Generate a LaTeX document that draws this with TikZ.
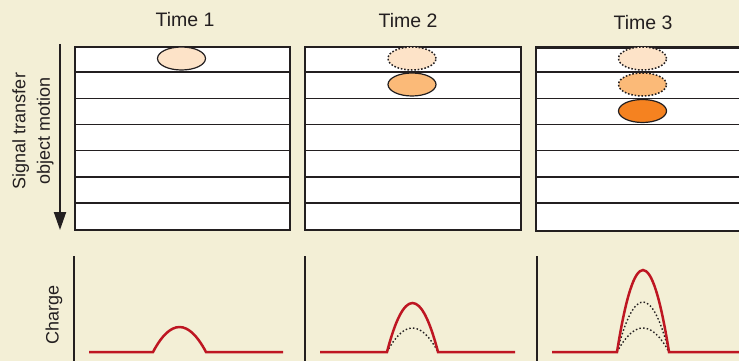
\documentclass[tikz,border=0pt]{standalone}
\usepackage{fontspec}
\setmainfont{Liberation Sans}
\usetikzlibrary{shapes.geometric,arrows.meta}
\definecolor{bg}{RGB}{243,239,214}
\definecolor{ink}{RGB}{35,31,32}
\definecolor{peach1}{RGB}{253,227,200}
\definecolor{peach2}{RGB}{251,186,120}
\definecolor{peach3}{RGB}{245,130,32}
\definecolor{sigred}{RGB}{190,22,34}
\tikzset{
  panel/.style={draw=ink, line width=2.4pt, fill=white, anchor=north west, inner sep=0pt},
  rowline/.style={draw=ink, line width=1.5pt},
  blob/.style={ellipse, draw=ink, line width=1.2pt, minimum width=48pt, minimum height=23pt, inner sep=0pt},
  ghost/.style={blob, line width=1.5pt, dash pattern=on 1.6pt off 1.8pt},
  title/.style={font=\fontsize{19.5}{21}\selectfont, text=ink},
  axis/.style={draw=ink, line width=1.3pt},
  sig/.style={draw=sigred, line width=2.5pt},
  prev/.style={draw=ink, line width=1.4pt, dash pattern=on 1.5pt off 2.2pt},
}
\begin{document}
\begin{tikzpicture}[x=1pt,y=-1pt]
\useasboundingbox (0,0) rectangle (739,361);
\clip (0,0) rectangle (739,361);
\fill[bg] (0,0) rectangle (739,361);

% titles
\node[title] (t1) at (185,20) {Time 1};
\node[title] (t2) at (408,21) {Time 2};
\node[title] (t3) at (643,23) {Time 3};

% panels
\node[panel, minimum width=215pt, minimum height=183pt] (p1) at (74,46) {};
\node[panel, minimum width=216pt, minimum height=183pt] (p2) at (304,46) {};
\node[panel, minimum width=230pt, minimum height=183pt] (p3) at (535,46.5) {};
\foreach \xa/\xb in {74/289, 304/520, 535/760}{
  \foreach \k in {1,...,6}{
    \draw[rowline] (\xa,46+\k*26.15) -- (\xb,46+\k*26.15);
  }
}

% blobs
\node[blob, fill=peach1] (b11) at (181.5,58.5) {};
\node[ghost, fill=peach1] (b21) at (412,58.5) {};
\node[blob, fill=peach2] (b22) at (412,84.5) {};
\node[ghost, fill=peach1] (b31) at (642.5,58.5) {};
\node[ghost, fill=peach2] (b32) at (642.5,84.5) {};
\node[blob, fill=peach3] (b33) at (642.5,111) {};

% motion arrow and side label
\coordinate (arrTop) at (60,44);
\coordinate (arrBot) at (60,230);
\draw[ink, line width=2pt, -{Triangle[width=12pt,length=18pt]}] (arrTop) -- (arrBot);
\node[title, rotate=90, align=center, font=\fontsize{18}{24.5}\selectfont] (side) at (33,131) {Signal transfer\\object motion};

% charge axes
\node[title, rotate=90, font=\fontsize{18}{20}\selectfont] (charge) at (54,315) {Charge};
\coordinate (a1t) at (74,256); \coordinate (a1b) at (74,361);
\coordinate (a2t) at (305,256); \coordinate (a2b) at (305,361);
\coordinate (a3t) at (537,256); \coordinate (a3b) at (537,361);
\draw[axis] (a1t) -- (a1b);
\draw[axis] (a2t) -- (a2b);
\draw[axis] (a3t) -- (a3b);

% signals
\draw[sig] (89,352) -- (153,352) .. controls (170.7,318.7) and (188.3,318.7) .. (206,352) -- (283,352);

\draw[prev] (387,352) .. controls (404,320) and (421,320) .. (438,352);
\draw[sig] (320,352) -- (387,352) .. controls (404,286.7) and (421,286.7) .. (438,352) -- (515,352);

\draw[prev] (617,352) .. controls (634.3,320) and (651.7,320) .. (669,352);
\draw[prev] (617,352) .. controls (634.3,285.3) and (651.7,285.3) .. (669,352);
\draw[sig] (552,352) -- (617,352) .. controls (634.3,242.7) and (651.7,242.7) .. (669,352) -- (745,352);
\end{tikzpicture}
\end{document}
